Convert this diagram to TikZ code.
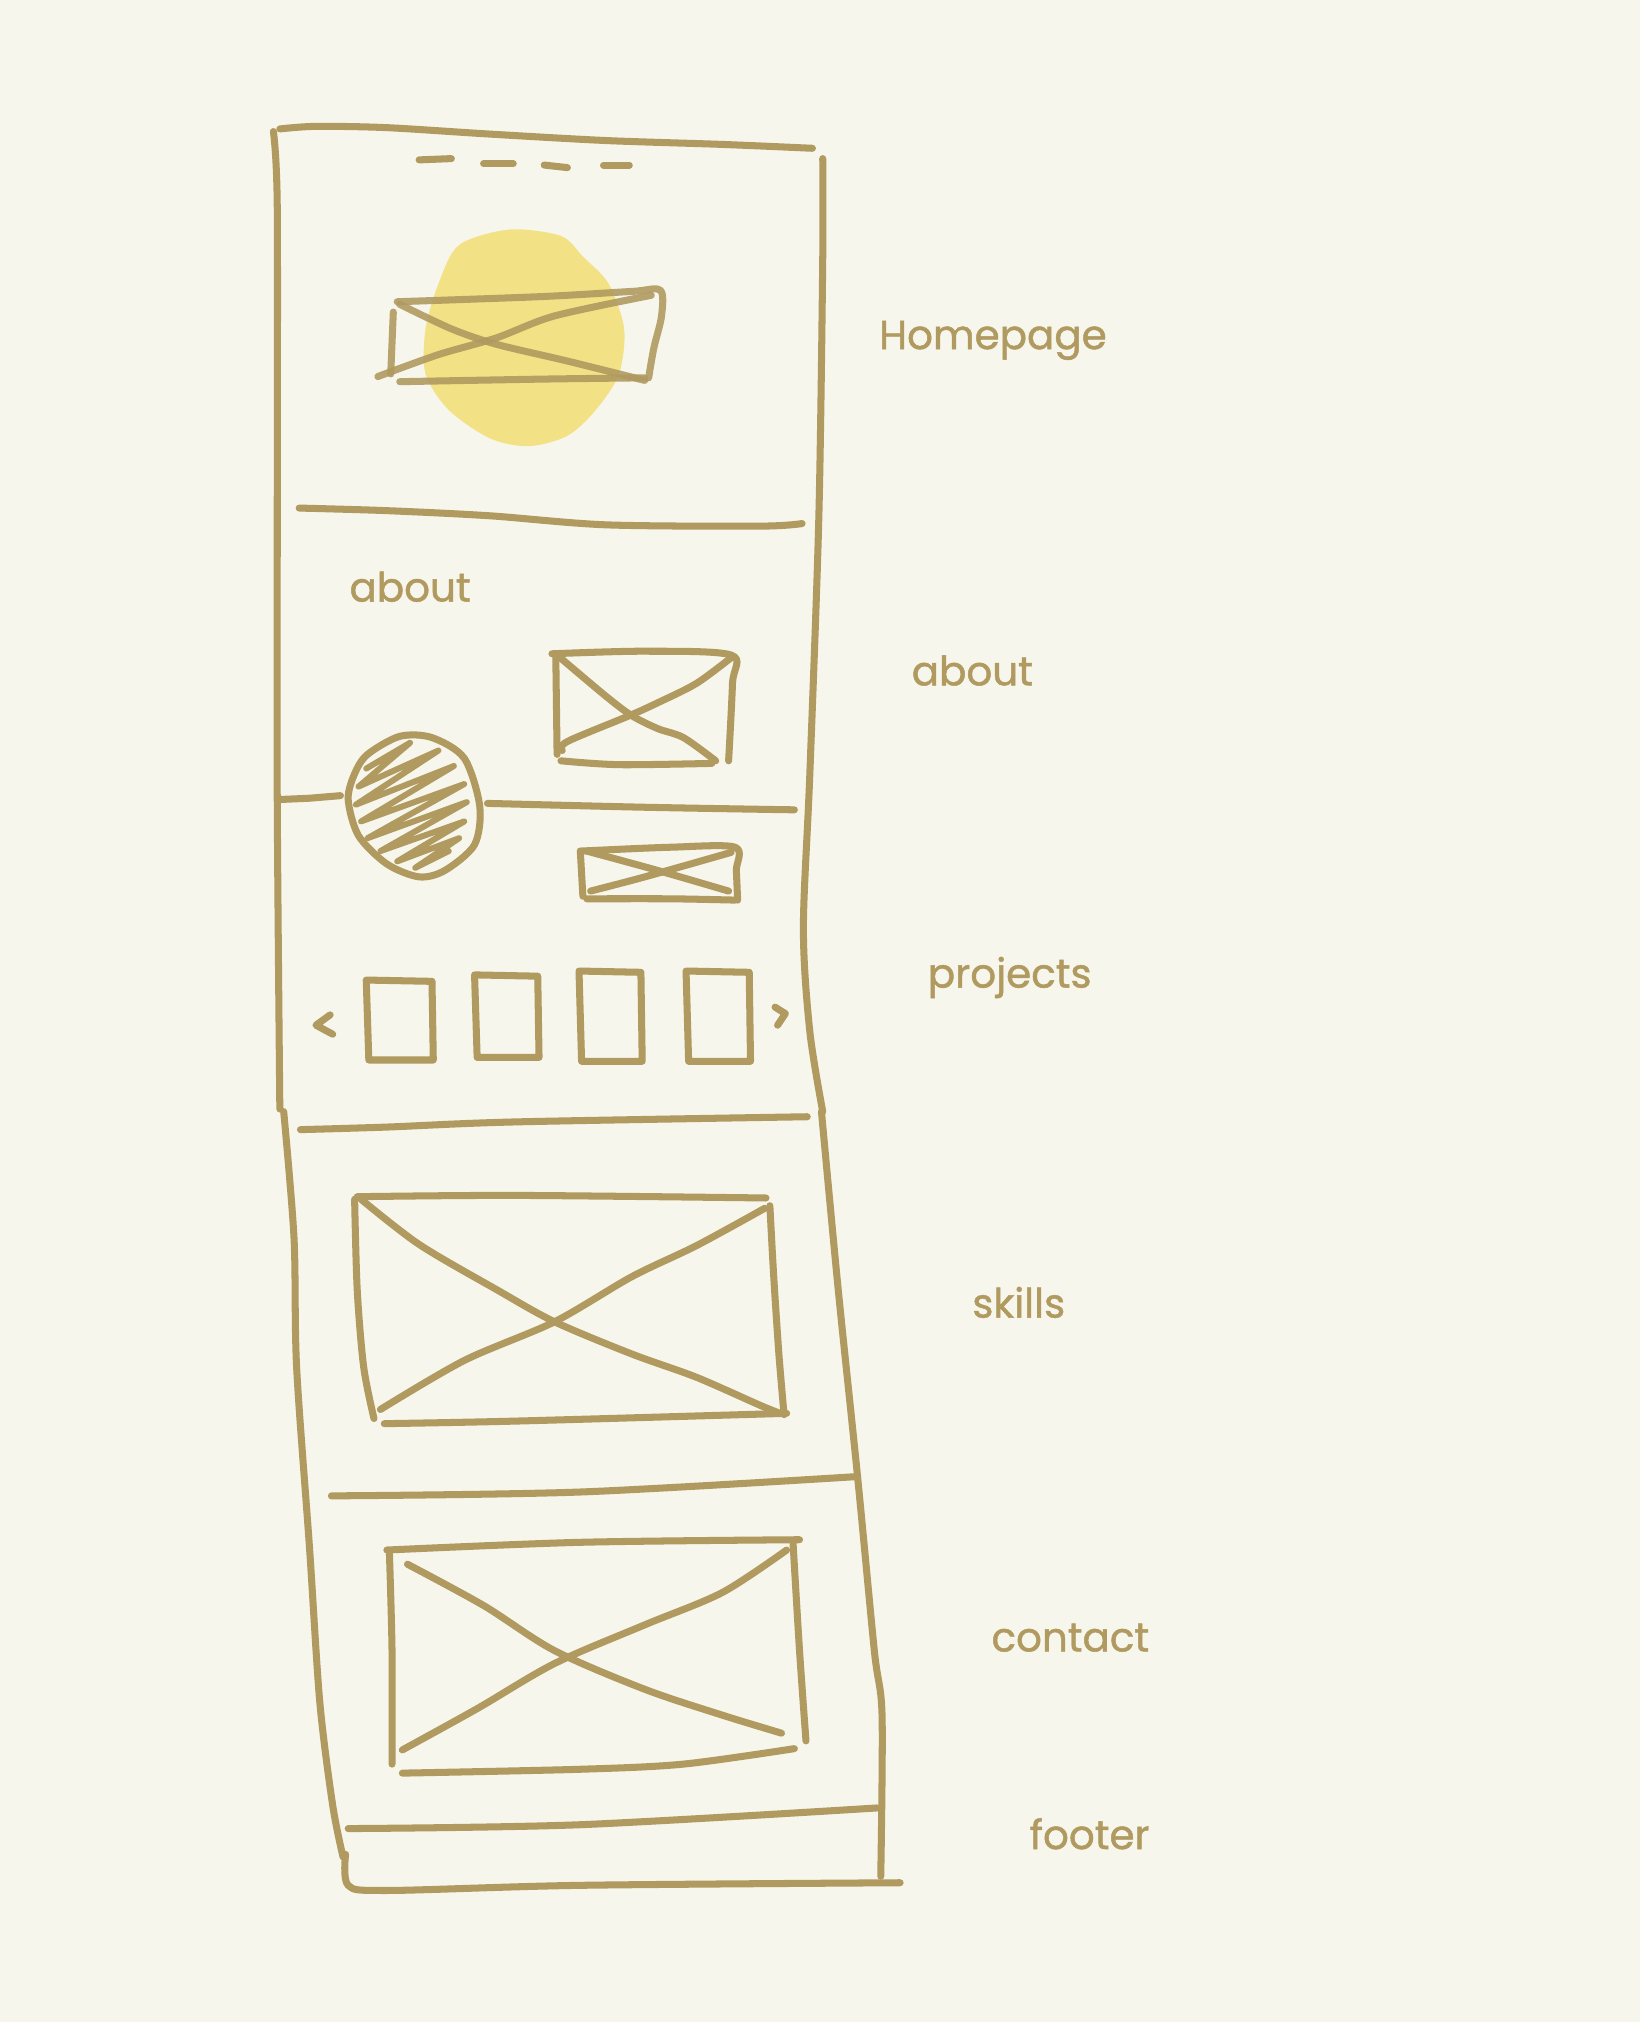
\documentclass[tikz,border=0pt]{standalone}
\usepackage{fontspec}
\setmainfont{Poppins}
\newfontfamily\handfont{Poppins}[FakeBold=1.2]
\definecolor{paper}{HTML}{F7F6EC}
\definecolor{ink}{HTML}{B09A60}
\definecolor{sun}{HTML}{F3E285}
\begin{document}
\begin{tikzpicture}[x=0.012893cm, y=-0.012893cm,
    pen/.style={draw=ink, line width=2pt, line cap=round, line join=round},
    thin pen/.style={pen, line width=1.7pt},
    tag/.style={text=ink, font=\handfont\fontsize{11.5}{13}\selectfont}]
    % Papier
    \fill[paper] (0,0) rectangle (1272,1568);
    \useasboundingbox (0,0) rectangle (1272,1568);

    % Mancha amarilla del hero
    \fill[sun] plot[smooth cycle] coordinates {(395,178) (435,183) (452,199) (472,220) (484,255) (480,290) (462,318) (440,338) (410,346) (380,340) (348,318) (330,290) (330,255) (340,220) (356,190)};

    % Marco de la pagina
    \draw[pen] plot[smooth] coordinates {(217,100) (245,98) (300,99) (380,104) (470,109) (560,112) (630,115)};
    \draw[pen] plot[smooth] coordinates {(212,102) (215,160) (215,400) (215,620) (217,860)};
    \draw[pen] plot[smooth] coordinates {(220,862) (228,960) (230,1060) (240,1200) (248,1320) (258,1400) (266,1440)};
    \draw[pen] plot[smooth] coordinates {(268,1438) (270,1462) (300,1466) (450,1462) (698,1460)};
    \draw[pen] plot[smooth] coordinates {(638,123) (638,200) (635,400) (628,600) (623,720) (628,800) (638,862)};
    \draw[pen] plot[smooth] coordinates {(637,862) (650,1000) (665,1145) (678,1280) (684,1330) (683,1455)};

    % Separadores
    \draw[pen] plot[smooth] coordinates {(232,394) (300,396) (380,400) (470,407) (590,408) (622,406)};
    \draw[pen] (217,620) -- (240,619) -- (264,617);
    \draw[pen] plot[smooth] coordinates {(378,623) (500,626) (616,628)};
    \draw[pen] plot[smooth] coordinates {(233,876) (300,874) (400,870) (626,866)};
    \draw[pen] plot[smooth] coordinates {(257,1160) (450,1157) (665,1145)};
    \draw[pen] plot[smooth] coordinates {(270,1418) (450,1415) (680,1402)};

    % Menu (guiones)
    \draw[pen] (325,124) -- (350,123);
    \draw[pen] (375,127) -- (398,127);
    \draw[pen] (422,128) -- (440,130);
    \draw[pen] (468,128) -- (488,128);

    % Imagen del hero
    \begin{scope}[opacity=0.9]
    \draw[pen] plot[smooth] coordinates {(308,234) (420,230) (490,226) (512,225) (513,245) (507,270) (503,293)};
    \draw[pen] (305,242) -- (303,290);
    \draw[pen] plot[smooth] coordinates {(310,296) (420,294) (500,293)};
    \draw[pen] plot[smooth] coordinates {(310,236) (350,255) (385,267) (440,280) (500,295)};
    \draw[pen] plot[smooth] coordinates {(293,292) (340,275) (385,262) (430,245) (505,229)};
    \end{scope}

    % Seccion about
    \node[tag] (aboutin) at (318,455) {about};
    \draw[pen] plot[smooth] coordinates {(428,507) (500,505) (567,508) (568,530) (565,590)};
    \draw[pen] (431,509) -- (432,585);
    \draw[pen] plot[smooth] coordinates {(435,590) (480,593) (552,592)};
    \draw[pen] plot[smooth] coordinates {(432,508) (470,540) (490,555) (510,565) (530,572) (555,590)};
    \draw[pen] plot[smooth] coordinates {(567,510) (540,530) (510,545) (488,555) (440,575) (436,582)};

    % Avatar rayado
    \draw[pen] plot[smooth cycle] coordinates {(285,585) (310,571) (335,572) (360,588) (372,625) (368,655) (345,675) (325,680) (300,670) (278,648) (270,620) (275,600)};
    \draw[thin pen] (284,596) -- (318,576) -- (278,610) -- (340,582) -- (276,624) -- (352,594) -- (280,637) -- (360,608) -- (285,650) -- (362,622) -- (295,660) -- (360,637) -- (308,668) -- (356,650) -- (322,673) -- (348,660);

    % Imagen pequena
    \draw[pen] plot[smooth] coordinates {(450,660) (520,657) (570,657) (571,675) (572,698)};
    \draw[pen] (450,660) -- (452,695);
    \draw[pen] plot[smooth] coordinates {(455,697) (520,697) (570,698)};
    \draw[pen] plot[smooth] coordinates {(455,660) (510,675) (565,691)};
    \draw[pen] plot[smooth] coordinates {(458,691) (500,680) (567,661)};

    % Carrusel de proyectos
    \draw[pen] (256,787) -- (245,795) -- (258,802);
    \draw[pen] (601,781) -- (609,786) -- (603,795);
    \foreach \xa/\ya/\xb/\yb in {284/760/335/822, 368/756/417/820, 449/753/497/823, 532/753/581/823}
        \draw[pen] (\xa,\ya) -- (\xb,\ya+1) -- (\xb+1,\yb) -- (\xa+2,\yb) -- cycle;

    % Imagen de skills
    \draw[pen] plot[smooth] coordinates {(277,928) (400,927) (594,929)};
    \draw[pen] plot[smooth] coordinates {(275,930) (277,1000) (282,1060) (290,1100)};
    \draw[pen] plot[smooth] coordinates {(597,935) (600,990) (604,1050) (608,1097)};
    \draw[pen] plot[smooth] coordinates {(298,1104) (400,1102) (610,1096)};
    \draw[pen] plot[smooth] coordinates {(280,930) (325,965) (385,1000) (430,1025) (490,1050) (540,1068) (590,1090) (605,1096)};
    \draw[pen] plot[smooth] coordinates {(593,937) (540,966) (490,990) (430,1025) (360,1055) (295,1093)};

    % Imagen de contact
    \draw[pen] plot[smooth] coordinates {(300,1202) (450,1196) (620,1194)};
    \draw[pen] plot[smooth] coordinates {(302,1205) (304,1280) (304,1368)};
    \draw[pen] plot[smooth] coordinates {(615,1197) (620,1280) (625,1350)};
    \draw[pen] plot[smooth] coordinates {(312,1375) (450,1372) (530,1368) (616,1356)};
    \draw[pen] plot[smooth] coordinates {(316,1213) (375,1245) (430,1280) (500,1310) (560,1330) (606,1344)};
    \draw[pen] plot[smooth] coordinates {(610,1202) (560,1235) (500,1260) (430,1290) (370,1325) (312,1357)};

    % Etiquetas de secciones
    \node[tag] (home) at (770,264) {Homepage};
    \node[tag] (about) at (754,520) {about};
    \node[tag] (projects) at (783,758) {projects};
    \node[tag] (skills) at (790,1010) {skills};
    \node[tag] (contact) at (830,1270) {contact};
    \node[tag] (footer) at (845,1422) {footer};
\end{tikzpicture}
\end{document}
